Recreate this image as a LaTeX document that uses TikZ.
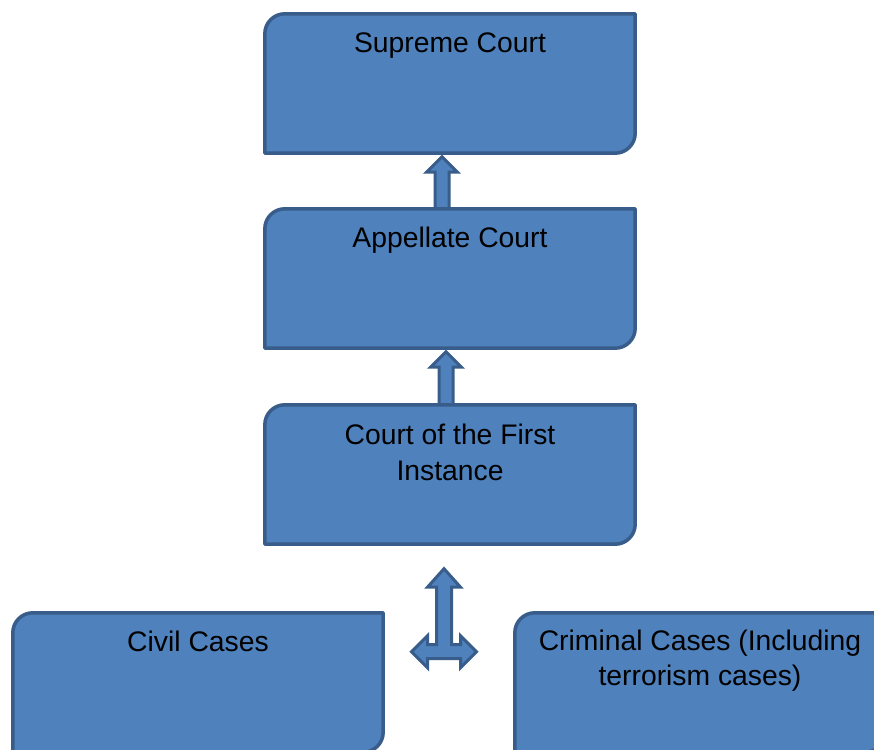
\documentclass[tikz,border=0pt]{standalone}
\usepackage{fontspec}
\setmainfont{Liberation Sans}
\usepackage{tikz}
\usetikzlibrary{positioning, calc}

\definecolor{boxfill}{RGB}{79,129,189}
\definecolor{boxedge}{RGB}{56,93,138}

\tikzset{
  courtbox/.style={rectangle, inner sep=0pt, minimum width=370pt, minimum height=139pt},
  boxline/.style={draw=boxedge, fill=boxfill, line width=3.5pt, line join=round},
  courttext/.style={inner sep=0pt, align=center, font=\fontsize{28.3}{35.5}\selectfont},
  blockarrow/.style={draw=boxedge, fill=boxfill, line width=3pt, line join=miter}
}

% box with round top-left and bottom-right corners
\newcommand{\roundbox}[1]{%
  \draw[boxline] (#1.south west) -- ([yshift=-20pt]#1.north west)
    arc[start angle=180, end angle=90, radius=20pt] -- (#1.north east)
    -- ([yshift=20pt]#1.south east)
    arc[start angle=0, end angle=-90, radius=20pt] -- cycle;}

% upward block arrow from #1 to #2, shifted by #3
\newcommand{\upblock}[3]{%
  \draw[blockarrow] ([xshift=#3-7pt]#1.north) -- ([xshift=#3-7pt, yshift=-19pt]#2.south)
    -- ([xshift=#3-15.5pt, yshift=-19pt]#2.south) -- ([xshift=#3, yshift=-3.5pt]#2.south)
    -- ([xshift=#3+15.5pt, yshift=-19pt]#2.south) -- ([xshift=#3+7pt, yshift=-19pt]#2.south)
    -- ([xshift=#3+7pt]#1.north) -- cycle;}

\begin{document}
\begin{tikzpicture}[x=1pt, y=1pt]
  \useasboundingbox (0,0) rectangle (874,749);
  \clip (0,0) rectangle (874,749);

  \node[courtbox] (sc) at (450,665.5) {};
  \node[courtbox] (ap) at (450,470.5) {};
  \node[courtbox] (fi) at (450,274.5) {};
  \node[courtbox] (cv) at (198,66.5) {};
  \node[courtbox] (cr) at (700,66.5) {};
  \coordinate (hub) at ($(fi.south)+(-6,-107.5)$);

  % arrows
  \upblock{ap}{sc}{-8pt}
  \upblock{fi}{ap}{-4pt}
  \draw[blockarrow] ($(hub)+(-7.5,7)$) -- ($(hub)+(-7.5,64.5)$) -- ($(hub)+(-16.5,64.5)$)
    -- ($(hub)+(0,83)$) -- ($(hub)+(16.5,64.5)$) -- ($(hub)+(7.5,64.5)$)
    -- ($(hub)+(7.5,7)$) -- ($(hub)+(16.5,7)$) -- ($(hub)+(16.5,16)$)
    -- ($(hub)+(32.5,0)$) -- ($(hub)+(16.5,-16)$) -- ($(hub)+(16.5,-7)$)
    -- ($(hub)+(-16.5,-7)$) -- ($(hub)+(-16.5,-16)$) -- ($(hub)+(-32.5,0)$)
    -- ($(hub)+(-16.5,16)$) -- ($(hub)+(-16.5,7)$) -- cycle;

  % boxes
  \roundbox{sc}
  \roundbox{ap}
  \roundbox{fi}
  \roundbox{cv}
  \roundbox{cr}

  \node[courttext, below=19pt of sc.north] (sc-t) {Supreme Court};
  \node[courttext, below=18.5pt of ap.north] (ap-t) {Appellate Court};
  \node[courttext, below=19pt of fi.north] (fi-t) {Court of the First\\Instance};
  \node[courttext, below=17.5pt of cv.north] (cv-t) {Civil Cases};
  \node[courttext, below=16.5pt of cr.north] (cr-t) {Criminal Cases (Including\\terrorism cases)};
\end{tikzpicture}
\end{document}
